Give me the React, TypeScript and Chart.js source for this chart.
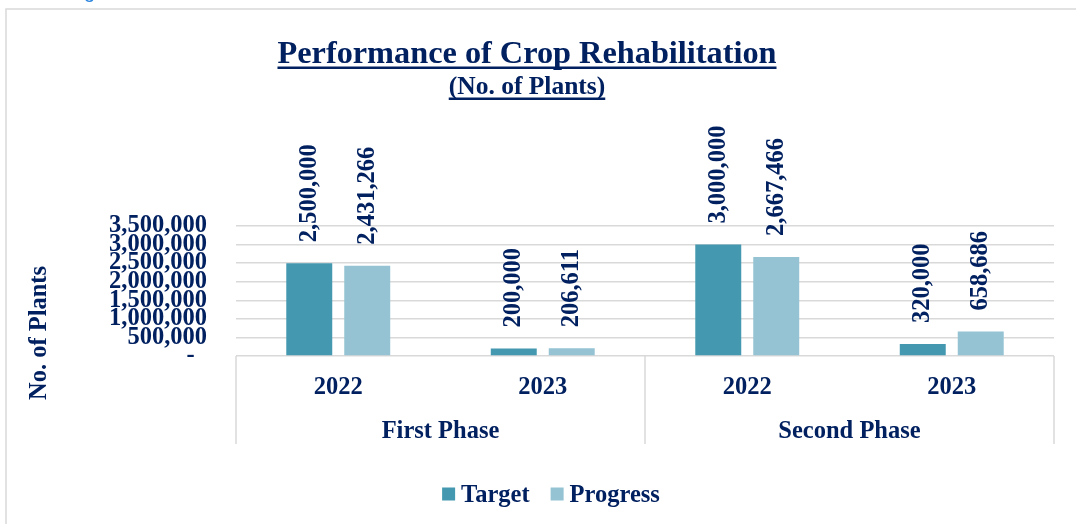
import React, { useEffect, useRef } from "react";
import { Chart, registerables } from "chart.js";

Chart.register(...registerables);

// ---- data ----
const phases = ["First Phase", "Second Phase"];
const years = ["2022", "2023", "2022", "2023"];
const targetValues = [2500000, 200000, 3000000, 320000];
const progressValues = [2431266, 206611, 2667466, 658686];
const seriesNames = ["Target", "Progress"];
const yMin = 0;
const yMax = 3500000;
const yStep = 500000;
const titleText = "Performance of Crop Rehabilitation";
const subtitleText = "(No. of Plants)";
const yAxisTitle = "No. of Plants";

// ---- styles ----
const NAVY = "#002060";
const SERIF = "'Liberation Serif', 'Times New Roman', serif";
const GRID = "#d9d9d9";
const COLORS = ["#4499B0", "#95C3D4"];
const FS = 24.5;

const fmt = (v: number) => Number(v).toLocaleString("en-US");

const decorPlugin = {
  id: "decor",
  beforeDraw(chart: any) {
    const ctx = chart.ctx;
    ctx.save();
    ctx.fillStyle = "#ffffff";
    ctx.fillRect(0, 0, chart.width, chart.height);
    // outer chart frame
    ctx.strokeStyle = GRID;
    ctx.lineWidth = 1.5;
    ctx.strokeRect(6, 9, 3000, 3000);
    // fragment of heading above the chart
    ctx.fillStyle = "#2E86DE";
    ctx.font = "20px 'Liberation Sans', sans-serif";
    ctx.textBaseline = "alphabetic";
    ctx.fillText("g", 84, -2);
    ctx.restore();
  },
  afterDatasetsDraw(chart: any) {
    const ctx = chart.ctx;
    ctx.save();
    ctx.fillStyle = NAVY;
    ctx.font = `bold ${FS}px ${SERIF}`;
    ctx.textAlign = "left";
    ctx.textBaseline = "middle";
    chart.data.datasets.forEach((ds: any, i: number) => {
      const meta = chart.getDatasetMeta(i);
      meta.data.forEach((bar: any, j: number) => {
        ctx.save();
        ctx.translate(bar.x, bar.y - 21);
        ctx.rotate(-Math.PI / 2);
        ctx.fillText(fmt(ds.data[j]), 0, 0);
        ctx.restore();
      });
    });
    ctx.restore();
  },
  afterDraw(chart: any) {
    const ctx = chart.ctx;
    const area = chart.chartArea;
    const xs = chart.scales.x;
    ctx.save();
    ctx.fillStyle = NAVY;

    // title + subtitle with underline
    const cx = 527;
    ctx.textAlign = "center";
    ctx.textBaseline = "alphabetic";
    ctx.font = `bold 32.3px ${SERIF}`;
    ctx.fillText(titleText, cx, 63);
    let w = ctx.measureText(titleText).width;
    ctx.fillRect(cx - w / 2, 66.5, w, 2.5);
    ctx.font = `bold 25.5px ${SERIF}`;
    ctx.fillText(subtitleText, cx, 94);
    w = ctx.measureText(subtitleText).width;
    ctx.fillRect(cx - w / 2, 97.5, w, 2.5);

    // y axis title
    ctx.save();
    ctx.font = `bold ${FS}px ${SERIF}`;
    ctx.translate(46, 333);
    ctx.rotate(-Math.PI / 2);
    ctx.textAlign = "center";
    ctx.fillText(yAxisTitle, 0, 0);
    ctx.restore();

    // multi-level category separators and phase labels
    const bottomY = 444;
    const n = years.length;
    const per = n / phases.length;
    ctx.strokeStyle = GRID;
    ctx.lineWidth = 1.5;
    const bounds: number[] = [xs.left];
    for (let p = 1; p < phases.length; p++) {
      bounds.push((xs.getPixelForValue(p * per - 1) + xs.getPixelForValue(p * per)) / 2);
    }
    bounds.push(xs.right);
    bounds.forEach((bx) => {
      ctx.beginPath();
      ctx.moveTo(bx, area.bottom);
      ctx.lineTo(bx, bottomY);
      ctx.stroke();
    });
    ctx.font = `bold ${FS}px ${SERIF}`;
    ctx.textAlign = "center";
    phases.forEach((ph, p) => {
      const a = xs.getPixelForValue(p * per);
      const b = xs.getPixelForValue(p * per + per - 1);
      ctx.fillText(ph, (a + b) / 2, 437.5);
    });

    // legend
    ctx.font = `bold ${FS}px ${SERIF}`;
    ctx.textAlign = "left";
    const box = 13;
    const gapText = 6;
    const gapItem = 21;
    const dsets = chart.data.datasets;
    let total = 0;
    dsets.forEach((ds: any, i: number) => {
      total += box + gapText + ctx.measureText(ds.label).width;
      if (i < dsets.length - 1) total += gapItem;
    });
    let lx = 551 - total / 2;
    dsets.forEach((ds: any) => {
      ctx.fillStyle = ds.backgroundColor;
      ctx.fillRect(lx, 487.5, box, box);
      lx += box + gapText;
      ctx.fillStyle = NAVY;
      ctx.fillText(ds.label, lx, 502);
      lx += ctx.measureText(ds.label).width + gapItem;
    });
    ctx.restore();
  },
};

export default function App() {
  const ref = useRef<HTMLCanvasElement | null>(null);

  useEffect(() => {
    document.body.style.margin = "0";
    document.body.style.overflow = "hidden";
    if (!ref.current) return;
    const chart = new Chart(ref.current, {
      type: "bar",
      data: {
        labels: years,
        datasets: [
          {
            label: seriesNames[0],
            data: targetValues,
            backgroundColor: COLORS[0],
            categoryPercentage: 0.567,
            barPercentage: 0.793,
          },
          {
            label: seriesNames[1],
            data: progressValues,
            backgroundColor: COLORS[1],
            categoryPercentage: 0.567,
            barPercentage: 0.793,
          },
        ],
      },
      options: {
        responsive: false,
        animation: false,
        layout: { padding: { left: 0, right: 22, top: 226, bottom: 98 } },
        plugins: {
          legend: { display: false },
          title: { display: false },
          tooltip: { enabled: false },
        },
        scales: {
          x: {
            grid: { display: false },
            border: { display: false },
            ticks: {
              autoSkip: false,
              maxRotation: 0,
              padding: 9,
              color: NAVY,
              font: { family: SERIF, size: FS, weight: "bold" },
            },
            afterFit: (s: any) => {
              s.height = 70;
            },
          },
          y: {
            min: yMin,
            max: yMax,
            grid: { color: GRID, lineWidth: 1.5, drawTicks: false },
            border: { display: false },
            ticks: {
              stepSize: yStep,
              autoSkip: false,
              padding: 29,
              color: NAVY,
              font: { family: SERIF, size: FS, weight: "bold" },
              callback: (v: any) => (Number(v) === 0 ? "-  " : fmt(Number(v))),
            },
            afterFit: (s: any) => {
              s.width = 236;
            },
          },
        },
      },
      plugins: [decorPlugin],
    } as any);
    return () => chart.destroy();
  }, []);

  return (
    <div style={{ width: 1076, height: 524 }}>
      <canvas ref={ref} width={1076} height={524} style={{ display: "block" }} />
    </div>
  );
}
